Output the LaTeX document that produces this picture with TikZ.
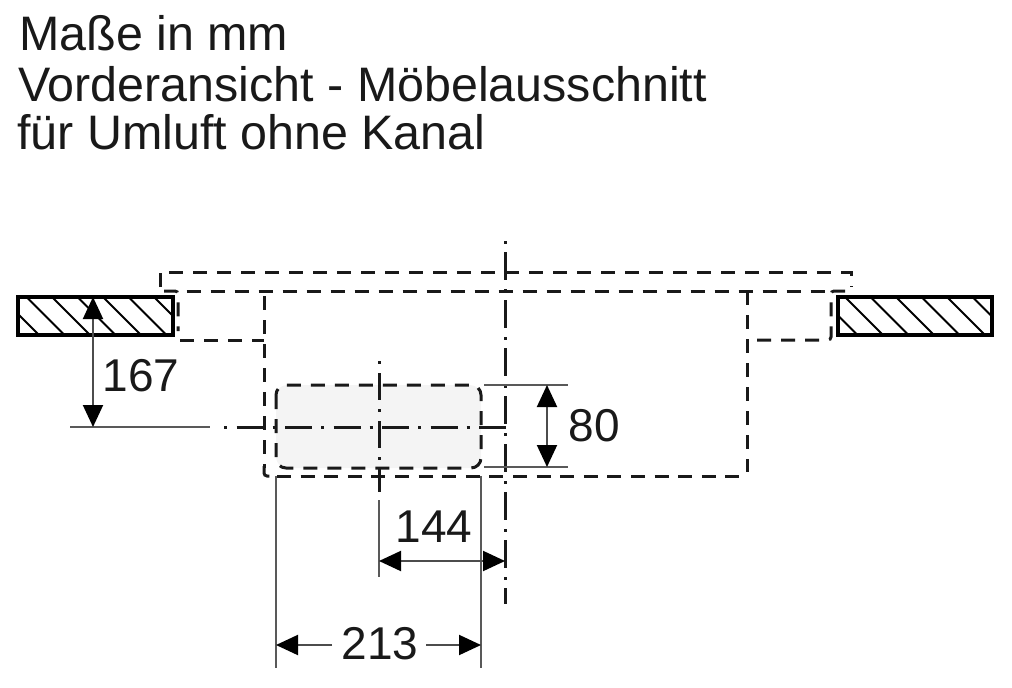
\documentclass[tikz,border=0pt]{standalone}
\usepackage{fontspec}
\setmainfont{Liberation Sans}
\usetikzlibrary{arrows.meta}
\tikzset{
  x=1pt,y=-1pt,
  hidden/.style={line width=3pt,black!90,dash pattern=on 14pt off 10pt},
  axis/.style={line width=3pt,black!90,dash pattern=on 3pt off 9pt on 27pt off 9pt},
  ext/.style={line width=2pt,black!65},
  slab/.style={line width=3.4pt,black},
  hatchline/.style={line width=2pt,black},
  dim/.style={line width=2pt,black!70,{Triangle[length=22pt,width=20pt,black]}-{Triangle[length=22pt,width=20pt,black]}},
  dimhalf/.style={line width=2pt,black!70,-{Triangle[length=22pt,width=20pt,black]}},
  title/.style={anchor=base west,inner sep=0pt,font=\fontsize{48.4}{48.4}\selectfont,black!90},
  num/.style={anchor=base,inner sep=0pt,font=\fontsize{46}{46}\selectfont,black!90}
}
\begin{document}
\begin{tikzpicture}
\useasboundingbox (0,0) rectangle (1012,688);
% titles
\node[title] (t1) at (19,50) {Maße in mm};
\node[title] (t2) at (18,101) {Vorderansicht - Möbelausschnitt};
\node[title] (t3) at (17,149) {für Umluft ohne Kanal};
% grey cut-out
\fill[black!4.5,rounded corners=11pt] (276,385) rectangle (481,468);
% slabs with hatching
\begin{scope}
  \clip (18,297) rectangle (173,335);
  \foreach \k in {0,...,6} \draw[hatchline] ({1+25.5*\k},297) -- ++(38,38);
\end{scope}
\draw[slab] (18,297) rectangle (173,335);
\begin{scope}
  \clip (838,297) rectangle (992,335);
  \foreach \k in {0,...,6} \draw[hatchline] ({819.5+25.5*\k},297) -- ++(38,38);
\end{scope}
\draw[slab] (838,297) rectangle (992,335);
% hidden outlines
\draw[hidden] (160,287) -- (160,272) -- (851,272) -- (851,287);
\draw[hidden,rounded corners=3pt] (164,291) -- (178,291) -- (178,331);
\draw[hidden] (186.5,291) -- (832,291);
\draw[hidden,rounded corners=3pt] (845,291) -- (831,291) -- (831,340) -- (748,340);
\draw[hidden] (180,340) -- (264,340);
\draw[hidden] (264,296) -- (264,468);
\draw[hidden,rounded corners=3pt] (264,466) -- (264,476) -- (270,476);
\draw[hidden,dash pattern=on 14pt off 9.6pt] (277,476) -- (742,476);
\draw[hidden] (747,291) -- (747,472);
\draw[hidden,rounded corners=10pt] (276,385) rectangle (481,468);
% axes
\draw[axis,dash pattern=on 3pt off 8pt on 28pt off 9pt] (505,241) -- (505,604);
\draw[axis] (379,361) -- (379,492);
\draw[ext,line width=2.4pt] (70,427) -- (210,427);
\draw[axis,dash pattern=on 3pt off 9.5pt on 27pt off 9pt] (224,427) -- (514,427);
% extension lines
\coordinate (a1) at (276,476); \coordinate (a2) at (276,668);
\coordinate (b1) at (481,476); \coordinate (b2) at (481,668);
\coordinate (c1) at (379,500); \coordinate (c2) at (379,577);
\coordinate (d1) at (484,385); \coordinate (d2) at (568,385);
\coordinate (e1) at (484,467); \coordinate (e2) at (568,467);
\draw[ext] (a1) -- (a2);
\draw[ext] (b1) -- (b2);
\draw[ext] (c1) -- (c2);
\draw[ext] (d1) -- (d2);
\draw[ext] (e1) -- (e2);
% dimensions
\coordinate (f1) at (93,297); \coordinate (f2) at (93,427);
\draw[dim] (f1) -- (f2);
\coordinate (g1) at (547,385); \coordinate (g2) at (547,467);
\draw[dim] (g1) -- (g2);
\coordinate (h1) at (379,561); \coordinate (h2) at (505,561);
\draw[dim] (h1) -- (h2);
\coordinate (i1) at (332,645); \coordinate (i2) at (426,645);
\coordinate (j1) at (276,645); \coordinate (j2) at (481,645);
\draw[dimhalf] (i1) -- (j1);
\draw[dimhalf] (i2) -- (j2);
% numbers
\node[num] (n167) at (141,391) {167};
\node[num] (n80) at (594,441) {80};
\node[num] (n144) at (434,542) {144};
\node[num] (n213) at (380,659) {213};
\end{tikzpicture}
\end{document}
